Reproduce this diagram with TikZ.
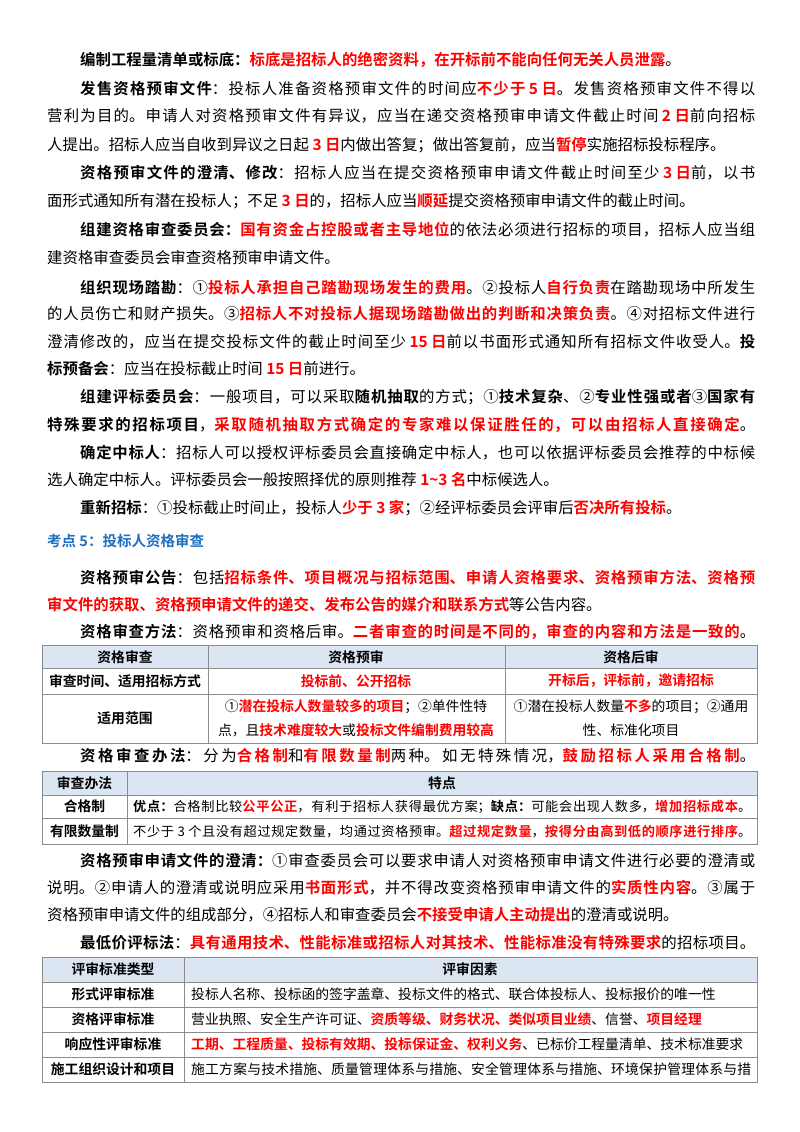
\documentclass[tikz,border=0pt]{standalone}
\usepackage{fontspec}
\setmainfont{Noto Sans CJK SC}[BoldFont={Noto Sans CJK SC Bold}]
\XeTeXlinebreaklocale "zh"
\XeTeXlinebreakskip=0pt plus 3pt
\definecolor{myred}{HTML}{FF0000}
\definecolor{myblue}{HTML}{1F6FBF}
\definecolor{hdr}{HTML}{DCE6F2}
\definecolor{grid}{HTML}{8C8C8C}
\newcommand{\B}[1]{\textbf{#1}}
\newcommand{\R}[1]{\textbf{\textcolor{myred}{#1}}}
\newcommand{\ks}{\kern3.5pt}
\newcommand{\fullA}[1]{\parbox[t]{675pt}{\parindent=0pt\parfillskip=0pt\relax #1}}
\newcommand{\fullB}[1]{\parbox[t]{708pt}{\parindent=0pt\parfillskip=0pt\relax #1}}
\newcommand{\fullW}[1]{\parbox[t]{618pt}{\parindent=0pt\parfillskip=0pt\relax #1}}
\newcommand{\fullT}[1]{\parbox[t]{560pt}{\parindent=0pt\parfillskip=0pt\relax #1}}
\begin{document}
\begin{tikzpicture}[x=1pt,y=-1pt,
  txt/.style={anchor=base west,inner sep=0pt,font=\fontsize{15.4}{18}\selectfont},
  cell/.style={inner sep=0pt,font=\fontsize{13.8}{24}\selectfont,align=center},
  lcell/.style={inner sep=0pt,anchor=base west,font=\fontsize{13.8}{18}\selectfont},
  gridl/.style={draw=grid,line width=0.8pt}]
\useasboundingbox[fill=white] (0,0) rectangle (800,1132);
% paragraphs
\node[txt] (l1) at (80,66) {\B{编制工程量清单或标底：}\R{标底是招标人的绝密资料，在开标前不能向任何无关人员泄露}。};
\node[txt] (l2) at (80,94) {\fullA{\B{发售资格预审文件}：投标人准备资格预审文件的时间应\R{不少于\ks 5\ks 日}。发售资格预审文件不得以}};
\node[txt] (l3) at (47,121) {\fullB{营利为目的。申请人对资格预审文件有异议，应当在递交资格预审申请文件截止时间\ks\R{2\ks 日}前向招标}};
\node[txt] (l4) at (47,150) {人提出。招标人应当自收到异议之日起\ks\R{3\ks 日}内做出答复；做出答复前，应当\R{暂停}实施招标投标程序。};
\node[txt] (l5) at (80,178) {\fullA{\B{资格预审文件的澄清、修改}：招标人应当在提交资格预审申请文件截止时间至少\ks\R{3\ks 日}前，以书}};
\node[txt] (l6) at (47,206) {面形式通知所有潜在投标人；不足\ks\R{3\ks 日}的，招标人应当\R{顺延}提交资格预审申请文件的截止时间。};
\node[txt] (l7) at (80,235) {\fullA{\B{组建资格审查委员会：}\R{国有资金占控股或者主导地位}的依法必须进行招标的项目，招标人应当组}};
\node[txt] (l8) at (47,263) {建资格审查委员会审查资格预审申请文件。};
\node[txt] (l9) at (80,293) {\fullA{\B{组织现场踏勘}：①\R{投标人承担自己踏勘现场发生的费用}。②投标人\R{自行负责}在踏勘现场中所发生}};
\node[txt] (l10) at (47,319) {\fullB{的人员伤亡和财产损失。③\R{招标人不对投标人据现场踏勘做出的判断和决策负责}。④对招标文件进行}};
\node[txt] (l11) at (47,347) {\fullB{澄清修改的，应当在提交投标文件的截止时间至少\ks\R{15\ks 日}前以书面形式通知所有招标文件收受人。\B{投}}};
\node[txt] (l12) at (47,374) {\B{标预备会}：应当在投标截止时间\ks\R{15\ks 日}前进行。};
\node[txt] (l13) at (80,402) {\fullA{\B{组建评标委员会}：一般项目，可以采取\B{随机抽取}的方式；①\B{技术复杂}、②\B{专业性强或者}③\B{国家有}}};
\node[txt] (l14) at (47,430) {\fullB{\B{特殊要求的招标项目}，\R{采取随机抽取方式确定的专家难以保证胜任的，可以由招标人直接确定}。}};
\node[txt] (l15) at (80,458) {\fullA{\B{确定中标人}：招标人可以授权评标委员会直接确定中标人，也可以依据评标委员会推荐的中标候}};
\node[txt] (l16) at (47,485) {选人确定中标人。评标委员会一般按照择优的原则推荐\ks\R{1\textasciitilde3\ks 名}中标候选人。};
\node[txt] (l17) at (80,513) {\B{重新招标}：①投标截止时间止，投标人\R{少于\ks 3\ks 家}；②经评标委员会评审后\R{否决所有投标}。};
\node[txt,font=\fontsize{14.5}{18}\selectfont\bfseries,text=myblue] (h5) at (47,546) {考点 5：投标人资格审查};
\node[txt] (l19) at (80,583) {\fullA{\B{资格预审公告}：包括\R{招标条件、项目概况与招标范围、申请人资格要求、资格预审方法、资格预}}};
\node[txt] (l20) at (47,610) {\R{审文件的获取、资格预申请文件的递交、发布公告的媒介和联系方式}等公告内容。};
\node[txt] (l21) at (80,637) {\fullA{\B{资格审查方法}：资格预审和资格后审。\R{二者审查的时间是不同的，审查的内容和方法是一致的}。}};
% table 1
\fill[hdr] (42,645) rectangle (757,668);
\draw[gridl] (42,645) rectangle (757,743);
\draw[gridl] (42,668) -- (757,668) (42,694) -- (757,694);
\draw[gridl] (208,645) -- (208,743) (505,645) -- (505,743);
\node[cell,font=\fontsize{13.8}{18}\selectfont\bfseries] (t11) at (125,657) {资格审查};
\node[cell,font=\fontsize{13.8}{18}\selectfont\bfseries] (t12) at (356,657) {资格预审};
\node[cell,font=\fontsize{13.8}{18}\selectfont\bfseries] (t13) at (631,657) {资格后审};
\node[cell,font=\fontsize{13.8}{18}\selectfont\bfseries] (t21) at (125,681) {审查时间、适用招标方式};
\node[cell] (t22) at (356,681) {\R{投标前、公开招标}};
\node[cell] (t23) at (631,681) {\R{开标后，评标前，邀请招标}};
\node[cell,font=\fontsize{13.8}{18}\selectfont\bfseries] (t31) at (125,718) {适用范围};
\node[cell] (t32) at (356,718) {①\R{潜在投标人数量较多的项目}；②单件性特\\点，且\R{技术难度较大}或\R{投标文件编制费用较高}};
\node[cell] (t33) at (631,718) {①潜在投标人数量\R{不多}的项目；②通用\\性、标准化项目};
\node[txt] (l22) at (80,761) {\fullA{\B{资格审查办法}：分为\R{合格制}和\R{有限数量制}两种。如无特殊情况，\R{鼓励招标人采用合格制}。}};
% table 2
\fill[hdr] (42,771) rectangle (757,795);
\draw[gridl] (42,771) rectangle (757,844);
\draw[gridl] (42,795) -- (757,795) (42,818) -- (757,818);
\draw[gridl] (127,771) -- (127,844);
\node[cell,font=\fontsize{13.8}{18}\selectfont\bfseries] (u11) at (84.5,783) {审查办法};
\node[cell,font=\fontsize{13.8}{18}\selectfont\bfseries] (u12) at (442,783) {特点};
\node[cell,font=\fontsize{13.8}{18}\selectfont\bfseries] (u21) at (84.5,806) {合格制};
\node[lcell,font=\fontsize{13.2}{18}\selectfont] (u22) at (133,811) {\fullW{\B{优点：}合格制比较\R{公平公正}，有利于招标人获得最优方案；\B{缺点：}可能会出现人数多，\R{增加招标成本}。}};
\node[cell,font=\fontsize{13.8}{18}\selectfont\bfseries] (u31) at (84.5,831) {有限数量制};
\node[lcell,font=\fontsize{13.2}{18}\selectfont] (u32) at (133,836) {\fullW{不少于\ks 3\ks 个且没有超过规定数量，均通过资格预审。\R{超过规定数量}，\R{按得分由高到低的顺序进行排序}。}};
\node[txt] (l23) at (80,866) {\fullA{\B{资格预审申请文件的澄清：}①审查委员会可以要求申请人对资格预审申请文件进行必要的澄清或}};
\node[txt] (l24) at (47,893) {\fullB{说明。②申请人的澄清或说明应采用\R{书面形式}，并不得改变资格预审申请文件的\R{实质性内容}。③属于}};
\node[txt] (l25) at (47,920) {资格预审申请文件的组成部分，④招标人和审查委员会\R{不接受申请人主动提出}的澄清或说明。};
\node[txt] (l26) at (80,948) {\fullA{\B{最低价评标法}：\R{具有通用技术、性能标准或招标人对其技术、性能标准没有特殊要求}的招标项目。}};
% table 3
\fill[hdr] (42,957) rectangle (757,982);
\draw[gridl] (42,957) rectangle (757,1082);
\draw[gridl] (42,982) -- (757,982) (42,1007) -- (757,1007) (42,1032) -- (757,1032) (42,1057) -- (757,1057);
\draw[gridl] (184,957) -- (184,1082);
\node[cell,font=\fontsize{13.8}{18}\selectfont\bfseries] (v11) at (113,969.5) {评审标准类型};
\node[cell,font=\fontsize{13.8}{18}\selectfont\bfseries] (v12) at (470,969.5) {评审因素};
\node[cell,font=\fontsize{13.8}{18}\selectfont\bfseries] (v21) at (113,994.5) {形式评审标准};
\node[lcell] (v22) at (191,999.5) {投标人名称、投标函的签字盖章、投标文件的格式、联合体投标人、投标报价的唯一性};
\node[cell,font=\fontsize{13.8}{18}\selectfont\bfseries] (v31) at (113,1019.5) {资格评审标准};
\node[lcell] (v32) at (191,1024.5) {营业执照、安全生产许可证、\R{资质等级、财务状况、类似项目业绩}、信誉、\R{项目经理}};
\node[cell,font=\fontsize{13.8}{18}\selectfont\bfseries] (v41) at (113,1044.5) {响应性评审标准};
\node[lcell] (v42) at (191,1049.5) {\R{工期、工程质量、投标有效期、投标保证金、权利义务}、已标价工程量清单、技术标准要求};
\node[cell,font=\fontsize{13.8}{18}\selectfont\bfseries] (v51) at (113,1069.5) {施工组织设计和项目};
\node[lcell] (v52) at (191,1074.5) {\fullT{施工方案与技术措施、质量管理体系与措施、安全管理体系与措施、环境保护管理体系与措}};
\end{tikzpicture}
\end{document}
